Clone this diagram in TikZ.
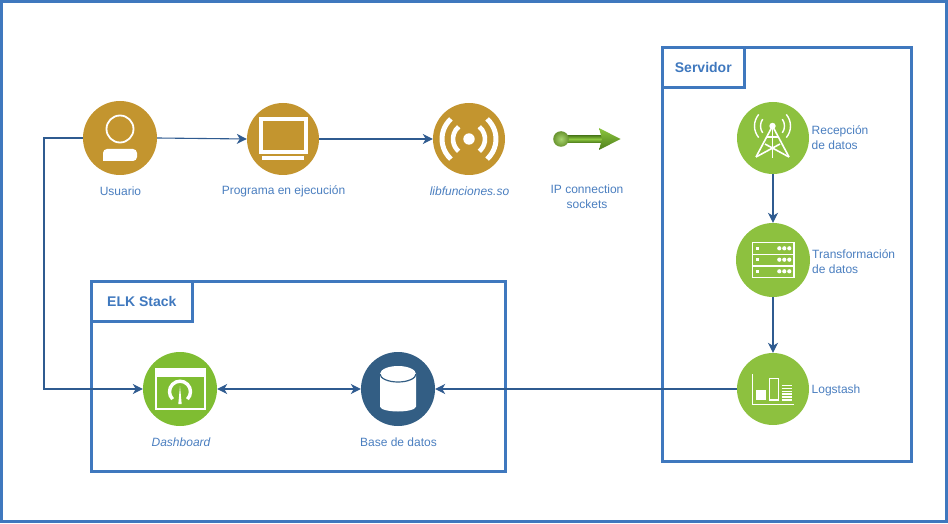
\documentclass[tikz,border=0pt]{standalone}
\usepackage{fontspec}
\setmainfont{Liberation Sans}
\usetikzlibrary{arrows.meta}

\definecolor{framecol}{HTML}{3F78BE}
\definecolor{textcol}{HTML}{4A7EBF}
\definecolor{linkcol}{HTML}{2F5B90}
\definecolor{goldcol}{HTML}{C3952F}
\definecolor{greencol}{HTML}{8DC13F}
\definecolor{dashcol}{HTML}{7FBD32}
\definecolor{dbcol}{HTML}{335E84}
\definecolor{ipcol}{HTML}{8CC63F}
\definecolor{ipdark}{HTML}{4F7F1C}

\tikzset{
  disc/.style={circle,inner sep=0,minimum size=#1},
  caption/.style={text=textcol,font=\fontsize{12}{15}\selectfont,align=center,inner sep=0},
  sidecaption/.style={caption,anchor=west,align=left},
  box/.style={draw=framecol,line width=3,inner sep=0},
  tab/.style={draw=framecol,line width=2.6,inner sep=0,text=framecol,font=\fontsize{14}{16}\selectfont\bfseries},
  link/.style={draw=linkcol,line width=1.1,-{Stealth[length=10,width=10,inset=3]}},
  linkboth/.style={link,{Stealth[length=10,width=10,inset=3]}-{Stealth[length=10,width=10,inset=3]}},
  icon/.style={draw=white,line width=1.6}
}

\begin{document}
\begin{tikzpicture}[x=1pt,y=1pt]

\useasboundingbox (0,0) rectangle (948,523);

\draw [framecol,line width=3.4] (1.5,1.5) rectangle (946.5,521.5);

\node (servidor) [box,minimum width=249,minimum height=414] at (787,268.5) {};
\node (tabservidor) [tab,minimum width=82,minimum height=40,anchor=north west] at (servidor.north west) {Servidor};

\node (elk) [box,minimum width=414,minimum height=190] at (298.5,146.5) {};
\node (tabelk) [tab,minimum width=101,minimum height=40,anchor=north west] at (elk.north west) {ELK Stack};

\node (usuario) [disc=74,fill=goldcol] at (120,385) {};
\node (programa) [disc=72,fill=goldcol] at (283,384) {};
\node (libf) [disc=72,fill=goldcol] at (469,384) {};
\node (recepcion) [disc=72,fill=greencol] at (773,385) {};
\node (transf) [disc=74,fill=greencol] at (773,263) {};
\node (logstash) [disc=72,fill=greencol] at (773,134) {};
\node (dashboard) [disc=74,fill=dashcol] at (180,134) {};
\node (based) [disc=74,fill=dbcol] at (398,134) {};

\node (lusuario) [caption] at (120.5,331.5) {Usuario};
\node (lprograma) [caption] at (283.5,331.5) {Programa en ejecución};
\node (llibf) [caption] at (469.5,331.5) {\itshape libfunciones.so};
\node (lip) [caption] at (587,326.5) {IP connection\\sockets};
\node (lrecepcion) [sidecaption] at (811.5,385) {Recepción\\de datos};
\node (ltransf) [sidecaption] at (812,261) {Transformación\\de datos};
\node (llogstash) [sidecaption] at (811.5,133) {Logstash};
\node (ldashboard) [caption] at (181,80.5) {\itshape Dashboard};
\node (lbased) [caption] at (398.5,80.5) {Base de datos};

\coordinate (elbow) at (44,385);

\draw [link] (usuario.east) -- (programa.west);

\draw [link] (programa.east) -- (libf.west);

\draw [link] (recepcion.south) -- (transf.north);

\draw [link] (transf.south) -- (logstash.north);

\draw [link] (logstash.west) -- (based.east);

\draw [linkboth] (dashboard.east) -- (based.west);

\draw [link] (usuario.west) -- (elbow) |- (dashboard.west);

\begin{scope}[shift={(120,385)}]
\draw [white,line width=1.8] (0,9) circle (13.5);
\fill [white,rounded corners=4] (-17,-23) -- (-17,-11) -- (17,-11) -- (17,-23) [sharp corners] -- cycle;
\end{scope}

\begin{scope}[shift={(283,384)}]
\draw [white,line width=4] (-22.5,-13) rectangle (22.5,19.5);
\fill [white] (-21,-21) rectangle (21,-17.5);
\end{scope}

\begin{scope}[shift={(469,384)}]
\fill [white] (0,0) circle (5.7);
\draw [white,line width=4.6] (50:16) arc (50:-50:16);
\draw [white,line width=4.6] (130:16) arc (130:230:16);
\draw [white,line width=5] (48:27) arc (48:-48:27);
\draw [white,line width=5] (132:27) arc (132:228:27);
\end{scope}

\shade [top color=ipdark,bottom color=ipdark,middle color=ipcol] (559,380.5) rectangle (602,387.5);
\shade [top color=ipcol,bottom color=ipdark] (599,395) -- (620.5,384) -- (599,373) -- (602,384) -- cycle;
\shade [inner color=ipcol!75!white,outer color=ipcol!75!black] (561,384) circle (7.8);

\begin{scope}[shift={(773,385)}]
\fill [white] (-0.5,12) circle (3.2);
\draw [icon] (-0.5,12) -- (-17,-19);
\draw [icon] (-0.5,12) -- (16,-19);
\draw [icon] (-0.5,12) -- (-0.5,-20);
\draw [icon] (-17,-19) -- (7,-6);
\draw [icon] (16,-19) -- (-8,-6);
\draw [icon] (-6,1) -- (5,1);
\draw [white,line width=1.4] (-0.5,12) ++(145:12) arc (145:215:12);
\draw [white,line width=1.4] (-0.5,12) ++(35:12) arc (35:-35:12);
\draw [white,line width=1.4] (-0.5,12) ++(140:18) arc (140:220:18);
\draw [white,line width=1.4] (-0.5,12) ++(40:18) arc (40:-40:18);
\end{scope}

\begin{scope}[shift={(773,263)}]
\draw [icon] (-20.7,-17.3) rectangle (20.7,17.3);
\draw [icon] (-20.7,5.7) -- (20.7,5.7);
\draw [icon] (-20.7,-5.9) -- (20.7,-5.9);
\foreach \yrow in {11.7,0.3,-11.3} {
  \fill [white] (-17,\yrow-1.4) rectangle (-14.2,\yrow+1.4);
  \foreach \xdot in {6.3,11.3,16.3}
    \fill [white] (\xdot,\yrow) circle (2.1);
}
\end{scope}

\begin{scope}[shift={(773,133)}]
\draw [icon] (-20.7,16) -- (-20.7,-14.3) -- (21,-14.3);
\fill [white] (-17,-10) rectangle (-7,0);
\draw [icon] (-3.7,-10) rectangle (5.3,11.7);
\foreach \yrow in {-10,-7.1,-4.2,-1.3,1.6,4.5}
  \draw [white,line width=1.6] (8.7,\yrow) -- (18.7,\yrow);
\end{scope}

\begin{scope}[shift={(180,134)}]
\fill [white] (-25.3,20.3) rectangle (25.7,12.3);
\draw [white,line width=2] (-24.5,-19.5) rectangle (24.9,20);
\draw [white,line width=3.4] (-0.0,-2.7) ++(225:10.5) arc (225:-45:10.5);
\fill [white] (-1.7,-15) -- (0,3) -- (1.7,-15) -- cycle;
\end{scope}

\begin{scope}[shift={(398,134)}]
\fill [white] (-18,15) -- (-18,-17.5) arc (180:360:18 and 5) -- (18,15) arc (0:180:18 and 8) -- cycle;
\draw [dbcol,line width=1.2] (-18,15) arc (180:360:18 and 8);
\end{scope}

\end{tikzpicture}
\end{document}
